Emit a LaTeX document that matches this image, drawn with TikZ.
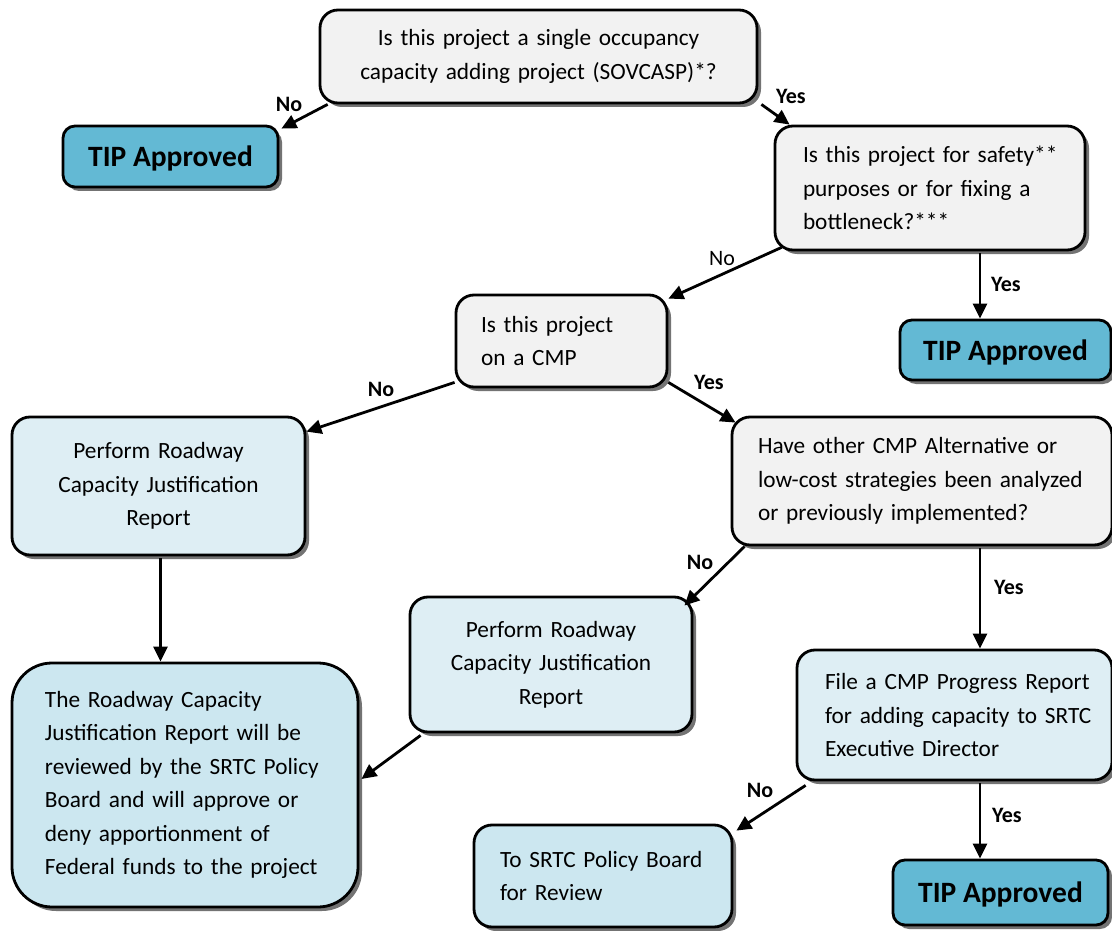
\documentclass[tikz,border=0pt]{standalone}
\usepackage{fontspec}
\setmainfont{Carlito}
\usetikzlibrary{arrows.meta,shadows,calc}
\definecolor{qgray}{HTML}{F2F2F2}
\definecolor{lblue}{HTML}{DEEEF4}
\definecolor{mblue}{HTML}{CCE7F0}
\definecolor{tipblue}{HTML}{63B9D4}
\newcommand\boxfont{\fontsize{23.3}{33.5}\selectfont}
\newcommand\tipfont{\fontsize{29.5}{32}\selectfont\bfseries}
\newcommand\labfont{\fontsize{22}{24}\selectfont\bfseries}
\newcommand\keep[1]{\mbox{#1}}
\begin{document}
\begin{tikzpicture}[x=1pt,y=-1pt,
  box/.style={draw=black, line width=2.8pt, rounded corners=18pt, inner sep=0pt,
    font=\boxfont,
    drop shadow={shadow xshift=4pt, shadow yshift=-4pt, fill=black!55, opacity=1}},
  qbox/.style={box, fill=qgray},
  lbox/.style={box, fill=lblue},
  mbox/.style={box, fill=mblue},
  tipbox/.style={box, fill=tipblue, font=\tipfont, text depth=0pt, rounded corners=12pt},
  arr/.style={line width=2.8pt, -{Triangle[length=15pt,width=14pt]}},
  lab/.style={font=\labfont, inner sep=1pt},
  labn/.style={font=\fontsize{22}{24}\selectfont, inner sep=1pt}]
\useasboundingbox (0,0) rectangle (1112,931);

% boxes
\node[qbox, minimum width=437pt, minimum height=93pt, align=center, text width=420pt]
  (q1) at (538.5,56.5) {Is this project a single occupancy\\capacity adding project (SOVCASP)*?};
\node[tipbox, minimum width=215pt, minimum height=61pt] (tipL) at (170.5,156.5) {TIP Approved};
\node[qbox, minimum width=310pt, minimum height=124pt, align=left, text width=254pt]
  (q2) at (930,188) {\keep{Is this project for safety**}\\\keep{purposes or for fixing a}\\\keep{bottleneck?***}};
\node[tipbox, minimum width=211pt, minimum height=60pt] (tipR) at (1005.5,350) {TIP Approved};
\node[qbox, minimum width=211pt, minimum height=92pt, align=left, text width=161pt]
  (q3) at (561.5,341) {\keep{Is this project}\\\keep{on a CMP}};
\node[lbox, minimum width=293pt, minimum height=138pt, align=center, text width=280pt]
  (p1) at (158.5,486) {Perform Roadway\\Capacity Justification\\Report};
\node[qbox, minimum width=380pt, minimum height=128pt, align=left, text width=328pt]
  (q4) at (922,481) {\keep{Have other CMP Alternative or}\\\keep{low-cost strategies been analyzed}\\\keep{or previously implemented?}};
\node[lbox, minimum width=282pt, minimum height=135pt, align=center, text width=270pt]
  (p2) at (551,664.5) {Perform Roadway\\Capacity Justification\\Report};
\node[mbox, rounded corners=40pt, minimum width=346pt, minimum height=244pt, align=left, text width=280pt]
  (big) at (185,785) {\keep{The Roadway Capacity}\\\keep{Justification Report will be}\\\keep{reviewed by the SRTC Policy}\\\keep{Board and will approve or}\\\keep{deny apportionment of}\\\keep{Federal funds to the project}};
\node[lbox, minimum width=315pt, minimum height=130pt, align=left, text width=259pt]
  (f) at (954.5,715) {\keep{File a CMP Progress Report}\\\keep{for adding capacity to SRTC}\\\keep{Executive Director}};
\node[mbox, minimum width=258pt, minimum height=102pt, align=left, text width=206pt]
  (s) at (603,876) {\keep{To SRTC Policy Board}\\\keep{for Review}};
\node[tipbox, minimum width=215pt, minimum height=65pt] (tipB) at (1000.5,892.5) {TIP Approved};

% connectors
\draw[arr] ([xshift=9pt]q1.south west) -- ([xshift=2pt,yshift=-4pt]tipL.north east);
\node[lab] (l1) at (289,104) {No};
\draw[arr] ([xshift=3pt]q1.south east) -- ([xshift=16pt]q2.north west);
\node[lab] (l2) at (791,96) {Yes};
\draw[arr] ([xshift=8pt,yshift=4pt]q2.south west) -- ([yshift=-5pt]q3.north east);
\node[labn] (l3) at (722,259) {No};
\draw[arr] ([xshift=50pt,yshift=-2pt]q2.south) -- ([xshift=50pt]q2.south |- tipR.north);
\node[lab] (l4) at (1006,284) {Yes};
\draw[arr] ([yshift=6pt]q3.south west) -- ([yshift=-16pt]p1.north east);
\node[lab] (l5) at (381,389) {No};
\draw[arr] ([yshift=6pt]q3.south east) -- ([xshift=5pt,yshift=-7pt]q4.north west);
\node[lab] (l6) at (709,382) {Yes};
\draw[arr] ([xshift=2pt,yshift=-2pt]p1.south) -- ([xshift=2pt]p1.south |- big.north);
\draw[arr] ([xshift=14pt]q4.south west) -- ([xshift=-9pt,yshift=-10pt]p2.north east);
\node[lab] (l7) at (700,562) {No};
\draw[arr] ([xshift=58pt,yshift=-2pt]q4.south) -- ([xshift=58pt]q4.south |- f.north);
\node[lab] (l8) at (1009,587) {Yes};
\draw[arr] ([xshift=12pt,yshift=-2pt]p2.south west) -- ([xshift=2pt,yshift=6pt]big.east);
\draw[arr] ([xshift=10pt,yshift=-4pt]f.south west) -- ([xshift=3pt,yshift=-7pt]s.north east);
\node[lab] (l9) at (760,790) {No};
\draw[arr] ([xshift=25.5pt,yshift=-2pt]f.south) -- ([xshift=25.5pt]f.south |- tipB.north);
\node[lab] (l10) at (1007,815) {Yes};
\end{tikzpicture}
\end{document}
